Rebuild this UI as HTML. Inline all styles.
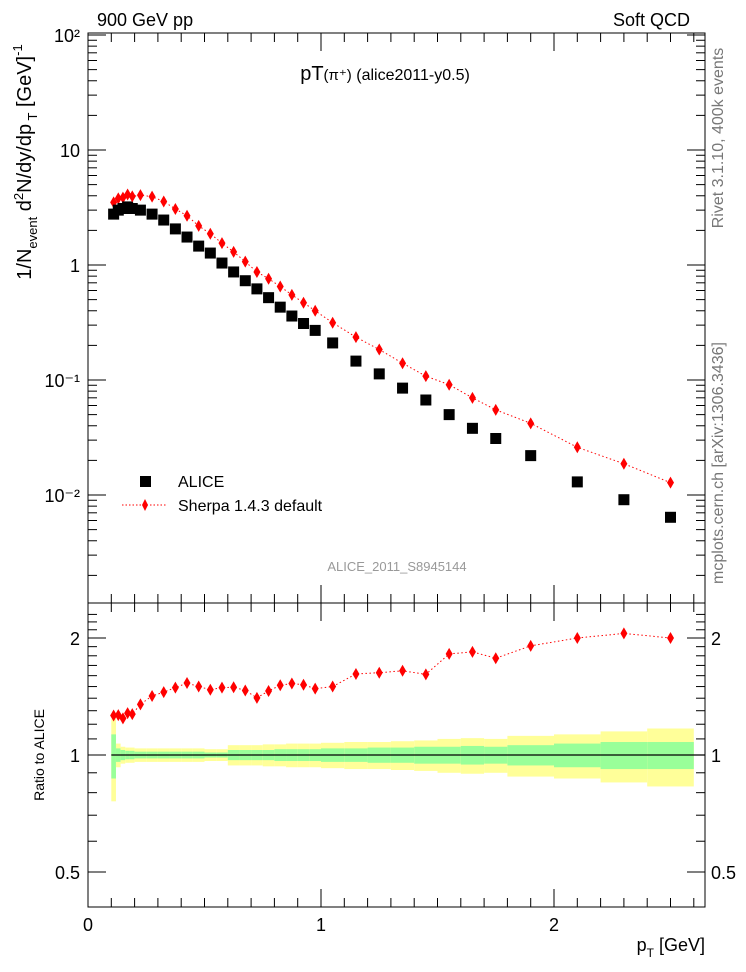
<!DOCTYPE html>
<html><head><meta charset="utf-8">
<style>
html,body{margin:0;padding:0;background:#fff;}
svg{display:block;font-family:"Liberation Sans",sans-serif;}
</style></head>
<body>
<svg id="plot" width="746" height="972" viewBox="0 0 746 972" xmlns="http://www.w3.org/2000/svg">
<g id="bands"></g>
<g id="marks"></g>
<g id="axes"></g>
<text x="97" y="26" font-size="18">900 GeV pp</text>
<text x="690" y="26" font-size="18" text-anchor="end">Soft QCD</text>
<text x="385" y="80" font-size="20" text-anchor="middle">pT<tspan font-size="15">(π⁺)</tspan><tspan font-size="16"> (alice2011-y0.5)</tspan></text>
<rect x="140" y="476" width="11" height="11" fill="#000"/>
<text x="178" y="487" font-size="16">ALICE</text>
<line x1="122" y1="505" x2="167" y2="505" stroke="#f00" stroke-dasharray="1.5,2"/>
<polygon points="145,499 148,505 145,511 142,505" fill="#f00"/>
<text x="178" y="511" font-size="16">Sherpa 1.4.3 default</text>
<text x="397" y="571" font-size="13" fill="#999" text-anchor="middle">ALICE_2011_S8945144</text>
<text transform="translate(723,138) rotate(-90)" font-size="16" fill="#777" text-anchor="middle">Rivet 3.1.10,  400k events</text>
<text transform="translate(723,463) rotate(-90)" font-size="16" fill="#777" text-anchor="middle">mcplots.cern.ch [arXiv:1306.3436]</text>
<text transform="translate(31,162) rotate(-90)" font-size="20" text-anchor="middle">1/N<tspan font-size="13" dy="6">event</tspan><tspan dy="-6"> d</tspan><tspan font-size="13" dy="-8">2</tspan><tspan dy="8">N/dy/dp</tspan><tspan font-size="13" dy="6"> T</tspan><tspan dy="-6"> [GeV]</tspan><tspan font-size="13" dy="-9">-1</tspan></text>
<text transform="translate(44,755) rotate(-90)" font-size="14" text-anchor="middle">Ratio to ALICE</text>
<text x="705" y="951" font-size="18" text-anchor="end">p<tspan font-size="12" dy="6">T</tspan><tspan dy="-6"> [GeV]</tspan></text>
</svg>
<script>
const xCenters=[0.11,0.13,0.15,0.17,0.19,0.225,0.275,0.325,0.375,0.425,0.475,0.525,0.575,0.625,0.675,0.725,0.775,0.825,0.875,0.925,0.975,1.05,1.15,1.25,1.35,1.45,1.55,1.65,1.75,1.9,2.1,2.3,2.5];
const binEdges=[0.1,0.12,0.14,0.16,0.18,0.2,0.25,0.3,0.35,0.4,0.45,0.5,0.55,0.6,0.65,0.7,0.75,0.8,0.85,0.9,0.95,1.0,1.1,1.2,1.3,1.4,1.5,1.6,1.7,1.8,2.0,2.2,2.4,2.6];
const aliceValues=[2.77,3.0,3.1,3.2,3.1,3.0,2.77,2.46,2.06,1.75,1.46,1.27,1.04,0.87,0.73,0.62,0.52,0.43,0.36,0.31,0.27,0.21,0.146,0.113,0.085,0.067,0.05,0.038,0.031,0.022,0.013,0.0091,0.0064];
const sherpaValues=[3.5,3.8,3.85,4.1,3.95,4.05,3.93,3.57,3.07,2.68,2.19,1.87,1.55,1.30,1.07,0.87,0.76,0.65,0.55,0.47,0.40,0.315,0.236,0.184,0.140,0.108,0.091,0.070,0.055,0.042,0.026,0.0187,0.0128];
const statErr=[0.13,0.04,0.03,0.025,0.025,0.02,0.02,0.02,0.02,0.02,0.02,0.015,0.015,0.03,0.03,0.03,0.03,0.035,0.035,0.035,0.035,0.04,0.04,0.045,0.045,0.05,0.05,0.055,0.05,0.06,0.07,0.08,0.08];
const totErr=[0.24,0.07,0.05,0.045,0.045,0.04,0.04,0.04,0.04,0.04,0.04,0.035,0.035,0.06,0.06,0.06,0.065,0.065,0.07,0.07,0.07,0.075,0.08,0.08,0.085,0.09,0.1,0.105,0.1,0.12,0.13,0.15,0.17];
const mainYTicks=["10\u207b\u00b2","10\u207b\u00b9","1","10","10\u00b2"];
const ratioTicks=[0.5,1,2];
const xTicks=[0,1,2];

const NS="http://www.w3.org/2000/svg";
const L=88,R=705,T=33,MB=603,RB=907;
const sx=v=>L+v*233;
const sy=v=>265-115*Math.log10(v);
const ry=v=>755-117*Math.log2(v);
function mk(tag,at,parent){const e=document.createElementNS(NS,tag);for(const k in at)e.setAttribute(k,at[k]);parent.appendChild(e);return e;}
const bands=document.getElementById('bands'),marks=document.getElementById('marks'),axes=document.getElementById('axes');

for(let i=0;i<xCenters.length;i++){
  const x0=sx(binEdges[i]),x1=sx(binEdges[i+1]);
  const y=mk('rect',{x:x0,y:ry(1+totErr[i]),width:x1-x0,height:ry(1-totErr[i])-ry(1+totErr[i]),fill:'#ffff99'},bands);
  
  
  const g=mk('rect',{x:x0,y:ry(1+statErr[i]),width:x1-x0,height:ry(1-statErr[i])-ry(1+statErr[i]),fill:'#99ff99'},bands);
  
  
}
const ref=mk('line',{x1:sx(binEdges[0]),x2:R,y1:ry(1),y2:ry(1),stroke:'#000','stroke-width':1.2},bands);



let pm='',pr='';
xCenters.forEach((x,i)=>{pm+=(i?'L':'M')+sx(x)+','+sy(sherpaValues[i]);pr+=(i?'L':'M')+sx(x)+','+ry(sherpaValues[i]/aliceValues[i]);});
const l1=mk('path',{d:pm,fill:'none',stroke:'#f00','stroke-dasharray':'1.5,2.5'},marks);


const l2=mk('path',{d:pr,fill:'none',stroke:'#f00','stroke-dasharray':'1.5,2.5'},marks);


function diamond(x,y){return (x)+','+(y-6)+' '+(x+3.5)+','+y+' '+x+','+(y+6)+' '+(x-3.5)+','+y;}
xCenters.forEach((x,i)=>{
  const a=mk('rect',{x:sx(x)-5.5,y:sy(aliceValues[i])-5.5,width:11,height:11,fill:'#000'},marks);
  
  
  const s=mk('polygon',{points:diamond(sx(x),sy(sherpaValues[i])),fill:'#f00'},marks);
  
  
  const r=mk('polygon',{points:diamond(sx(x),ry(sherpaValues[i]/aliceValues[i])),fill:'#f00'},marks);
  
  
});

const f1=mk('rect',{x:L,y:T,width:R-L,height:MB-T,fill:'none',stroke:'#000'},axes);


const f2=mk('rect',{x:L,y:MB,width:R-L,height:RB-MB,fill:'none',stroke:'#000'},axes);


function tk(x1,y1,x2,y2){const t=mk('line',{x1,y1,x2,y2,stroke:'#000'},axes);}
for(let k=0;k<=26;k++){
  const x=sx(k/10),maj=k%10===0,len=maj?18:9;
  tk(x,T,x,T+len);tk(x,MB,x,MB-len);tk(x,MB,x,MB+len);tk(x,RB,x,RB-len);
}
xTicks.forEach(v=>{const t=mk('text',{x:sx(v),y:931,'font-size':18,'text-anchor':'middle'},axes);t.textContent=v;});
for(let d=-3;d<=1;d++){for(let m=1;m<=9;m++){const v=m*Math.pow(10,d);const y=sy(v);if(y<T||y>MB)continue;const len=m===1?18:9;tk(L,y,L+len,y);tk(R,y,R-len,y);}}
tk(L,sy(100),L+18,sy(100));tk(R,sy(100),R-18,sy(100));
mainYTicks.forEach((lab,i)=>{const v=Math.pow(10,i-2);const t=mk('text',{x:80,y:sy(v)+7,'font-size':18,'text-anchor':'end'},axes);t.textContent=lab;});
[0.5,0.6,0.7,0.8,0.9,1,1.1,1.2,1.3,1.4,1.5,1.6,1.7,1.8,1.9,2,2.1,2.2,2.3].forEach(v=>{const y=ry(v);if(y<MB||y>RB)return;const len=ratioTicks.includes(v)?18:9;tk(L,y,L+len,y);tk(R,y,R-len,y);});
ratioTicks.forEach(v=>{
  const a=mk('text',{x:80,y:ry(v)+7,'font-size':18,'text-anchor':'end'},axes);a.textContent=v;
  const b=mk('text',{x:711,y:ry(v)+7,'font-size':18},axes);b.textContent=v;
});
</script>
</body></html>
